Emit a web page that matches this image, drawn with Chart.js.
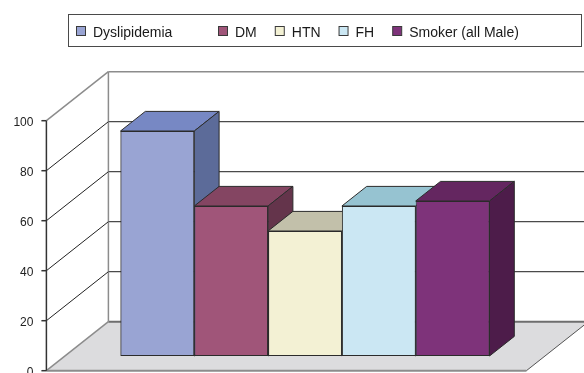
<!DOCTYPE html>
<html>
<head>
<meta charset="utf-8">
<script src="https://cdn.jsdelivr.net/npm/chart.js@4/dist/chart.umd.min.js"></script>
<style>
  html, body { margin: 0; padding: 0; background: #ffffff; }
  #wrap { width: 584px; height: 373px; overflow: hidden; }
</style>
</head>
<body>
<div id="wrap"><canvas id="chart" width="584" height="373"></canvas></div>
<script>
// Risk factor prevalence (%), one bar per risk factor
const categories = [''];
const seriesNames = ['Dyslipidemia', 'DM', 'HTN', 'FH', 'Smoker (all Male)'];
const seriesValues = [90, 60, 50, 60, 62];
const yTicks = [0, 20, 40, 60, 80, 100];

// Face colours for each series: front, top, side
const frontColors = ['#99a4d3', '#a05579', '#f3f1d4', '#cbe7f3', '#7e337a'];
const topColors   = ['#7788c4', '#844562', '#c2c0aa', '#96c3d1', '#642660'];
const sideColors  = ['#5c6b99', '#64344b', '#908f7e', '#7193a0', '#4d1c4a'];

// 3-D box geometry: full floor depth vector and where the bars sit inside it
const DEPTH_X = 62, DEPTH_Y = 49;
const BAR_FRONT = 0.3, BAR_BACK = 0.7;
const EDGE = '#2b2b2b';
const FONT = "'Liberation Sans', Arial, sans-serif";

// Point on a depth plane: t = 0 is the front (axis) plane, t = 1 the back wall
function planePt(chart, x, v, t) {
  const y = chart.scales.y.getPixelForValue(v);
  const d = t - BAR_FRONT;
  return [x + d * DEPTH_X, y - d * DEPTH_Y];
}

function line(ctx, a, b, color, width) {
  ctx.beginPath();
  ctx.moveTo(a[0], a[1]);
  ctx.lineTo(b[0], b[1]);
  ctx.strokeStyle = color;
  ctx.lineWidth = width;
  ctx.stroke();
}

function poly(ctx, pts, fill) {
  ctx.beginPath();
  ctx.moveTo(pts[0][0], pts[0][1]);
  for (let i = 1; i < pts.length; i++) ctx.lineTo(pts[i][0], pts[i][1]);
  ctx.closePath();
  ctx.fillStyle = fill;
  ctx.fill();
  ctx.strokeStyle = EDGE;
  ctx.lineWidth = 1;
  ctx.stroke();
}

// Walls, floor, gridlines and the value axis
const box3d = {
  id: 'box3d',
  beforeDatasetsDraw(chart) {
    const ctx = chart.ctx;
    const L = chart.chartArea.left, R = chart.chartArea.right;
    const vMax = yTicks[yTicks.length - 1];
    ctx.save();

    // floor
    const f = [planePt(chart, L, 0, 0), planePt(chart, R, 0, 0),
               planePt(chart, R, 0, 1), planePt(chart, L, 0, 1)];
    ctx.beginPath();
    ctx.moveTo(f[0][0], f[0][1]);
    f.slice(1).forEach(p => ctx.lineTo(p[0], p[1]));
    ctx.closePath();
    ctx.fillStyle = '#dcdcde';
    ctx.fill();

    // back wall gridlines
    const wallR = R + 60;
    yTicks.forEach(v => {
      const a = planePt(chart, L, v, 1);
      const b = [wallR + (1 - BAR_FRONT) * DEPTH_X, a[1]];
      if (v === 0) line(ctx, a, b, '#6e6e6e', 2);
      else if (v === vMax) line(ctx, a, b, '#8c8c8c', 1.5);
      else line(ctx, a, b, '#4a4a4a', 1.3);
    });
    // back wall left edge
    line(ctx, planePt(chart, L, 0, 1), planePt(chart, L, vMax, 1), '#8c8c8c', 1.5);

    // side wall diagonals
    yTicks.forEach(v => {
      const grey = (v === 0 || v === vMax);
      line(ctx, planePt(chart, L, v, 0), planePt(chart, L, v, 1),
           grey ? '#8c8c8c' : '#222222', grey ? 1.5 : 1);
    });

    // floor front and right edges
    line(ctx, planePt(chart, L, 0, 0), planePt(chart, R, 0, 0), '#8c8c8c', 2);
    line(ctx, planePt(chart, R, 0, 0), planePt(chart, R, 0, 1), '#555555', 1);

    // value axis with ticks and labels
    const a0 = planePt(chart, L, 0, 0), a1 = planePt(chart, L, vMax, 0);
    line(ctx, a0, a1, '#333333', 1.5);
    ctx.font = '12px ' + FONT;
    ctx.fillStyle = '#222222';
    ctx.textAlign = 'right';
    ctx.textBaseline = 'middle';
    yTicks.forEach(v => {
      const p = planePt(chart, L, v, 0);
      line(ctx, [p[0] - 5, p[1]], p, '#333333', 1.5);
      ctx.fillText(String(v), p[0] - 13, p[1] + 1.5);
    });
    ctx.restore();
  },

  // Bars are painted left to right so each one hides the side of its left neighbour
  afterDatasetsDraw(chart) {
    const ctx = chart.ctx;
    const dx = (BAR_BACK - BAR_FRONT) * DEPTH_X;
    const dy = (BAR_BACK - BAR_FRONT) * DEPTH_Y;
    ctx.save();
    chart.data.datasets.forEach((ds, i) => {
      const meta = chart.getDatasetMeta(i);
      meta.data.forEach(bar => {
        const p = bar.getProps(['x', 'y', 'base', 'width'], true);
        const l = p.x - p.width / 2, r = p.x + p.width / 2;
        bar.draw(ctx, chart.chartArea);
        poly(ctx, [[l, p.y], [r, p.y], [r + dx, p.y - dy], [l + dx, p.y - dy]], topColors[i]);
        poly(ctx, [[r, p.y], [r + dx, p.y - dy], [r + dx, p.base - dy], [r, p.base]], sideColors[i]);
      });
    });
    ctx.restore();
  },

  // Boxed legend across the top
  afterDraw(chart) {
    const ctx = chart.ctx;
    ctx.save();
    ctx.fillStyle = '#ffffff';
    ctx.fillRect(68.5, 14.5, 513, 32);
    ctx.strokeStyle = '#4a4a4a';
    ctx.lineWidth = 1;
    ctx.strokeRect(68.5, 14.5, 513, 32);
    ctx.font = '14px ' + FONT;
    ctx.textAlign = 'left';
    ctx.textBaseline = 'alphabetic';
    let x = 76;
    seriesNames.forEach((name, i) => {
      ctx.fillStyle = frontColors[i];
      ctx.fillRect(x + 0.5, 26.5, 9, 9);
      ctx.strokeStyle = '#3a3a3a';
      ctx.strokeRect(x + 0.5, 26.5, 9, 9);
      ctx.fillStyle = '#1a1a1a';
      ctx.fillText(name, x + 17, 36.5);
      const w = ctx.measureText(name).width;
      x = Math.max(x + 17 + w + 18, x + 142 * (i === 0 ? 1 : 0));
    });
    ctx.restore();
  }
};

new Chart(document.getElementById('chart'), {
  type: 'bar',
  data: {
    labels: categories,
    datasets: seriesNames.map((name, i) => ({
      label: name,
      data: [seriesValues[i]],
      backgroundColor: frontColors[i],
      borderColor: EDGE,
      borderWidth: 1,
      borderSkipped: false,
      categoryPercentage: 0.76875,
      barPercentage: 1
    }))
  },
  options: {
    responsive: false,
    devicePixelRatio: 1,
    animation: false,
    events: [],
    layout: { padding: { left: 65, right: 39, top: 106, bottom: 17 } },
    scales: {
      x: { display: false },
      y: { display: false, min: 0, max: 100 }
    },
    plugins: {
      legend: { display: false },
      tooltip: { enabled: false }
    }
  },
  plugins: [box3d]
});
</script>
</body>
</html>
